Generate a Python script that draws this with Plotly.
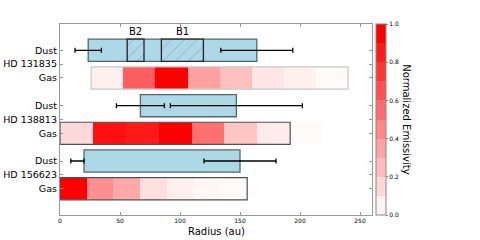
import plotly.graph_objects as go

# ---------------- data ----------------
targets = ["HD 131835", "HD 138813", "HD 156623"]
gas_pos = [4, 2, 0]
hd_pos = [4.5, 2.5, 0.5]
dust_pos = [5, 3, 1]

dust_inner = [23.5, 67, 20]
dust_outer = [164, 147, 150]
inner_err_minus = [11, 20, 11]
inner_err_plus = [11, 20, 0]
outer_err = [30, 55, 30]

band_names = ["B2", "B1"]
band_left = [56, 84.5]
band_right = [70, 119.5]

gas_edges = [
    [26, 52.8, 79.5, 106.3, 133, 159.8, 186.5, 213.3, 240],
    [0, 27.4, 54.8, 82.2, 109.6, 137, 164.4, 191.8, 219.2, 246.6],
    [0, 22.3, 44.6, 66.9, 89.1, 111.4, 133.7, 156],
]
gas_emis = [
    [0.06, 0.63, 1.0, 0.37, 0.25, 0.10, 0.06, 0.02],
    [0.15, 0.94, 0.90, 1.0, 0.56, 0.23, 0.08, 0.02, 0.0],
    [1.0, 0.44, 0.34, 0.12, 0.06, 0.035, 0.02],
]
gas_border_end = [240, 191.8, 156]
gas_border_color = ["#c8c8c8", "#505050", "#505050"]

cbar_ticks = [0.0, 0.2, 0.4, 0.6, 0.8, 1.0]

# ---------------- figure ----------------
FONT = "DejaVu Sans"
fig = go.Figure()

def red(v):
    g = round(255 * (1 - v))
    return f"rgb(255,{g},{g})"

cont_scale = [[0, red(0)], [1, red(1)]]
disc_scale = []
for i in range(10):
    v = 0.05 + i * 0.95 / 9
    disc_scale.append([i / 10, red(v)])
    disc_scale.append([(i + 1) / 10, red(v)])

# gas strips
for k in range(3):
    fig.add_trace(go.Heatmap(
        x=gas_edges[k], y=[gas_pos[k] - 0.4, gas_pos[k] + 0.4], z=[gas_emis[k]],
        colorscale=cont_scale, zmin=0, zmax=1, showscale=False, hoverinfo="skip"))
    fig.add_shape(type="rect", xref="x", yref="y",
                  x0=gas_edges[k][0], x1=gas_border_end[k],
                  y0=gas_pos[k] - 0.4, y1=gas_pos[k] + 0.4,
                  line=dict(color=gas_border_color[k], width=1.2))

# dust boxes
fig.add_trace(go.Bar(
    orientation="h", y=dust_pos,
    base=dust_inner, x=[o - i for i, o in zip(dust_inner, dust_outer)],
    width=0.8, marker=dict(color="#add8e6", line=dict(color="#56666c", width=1.3)),
    hoverinfo="skip", showlegend=False))

# hatched bands
fig.add_trace(go.Bar(
    orientation="h", y=[dust_pos[0]] * len(band_names),
    base=band_left, x=[r - l for l, r in zip(band_left, band_right)],
    width=0.8,
    marker=dict(color="#add8e6", line=dict(color="#222222", width=1.3),
                pattern=dict(shape="/", fgcolor="#5a6a72", bgcolor="#add8e6",
                             size=9, solidity=0.08)),
    hoverinfo="skip", showlegend=False))

for name, l, r in zip(band_names, band_left, band_right):
    fig.add_annotation(x=(l + r) / 2, y=dust_pos[0] + 0.68, xref="x", yref="y",
                       text=name, showarrow=False,
                       font=dict(family=FONT, size=10, color="black"))

# error bars
fig.add_trace(go.Scatter(
    x=dust_inner, y=dust_pos, mode="markers", marker=dict(size=1, color="black"),
    error_x=dict(type="data", symmetric=False, array=inner_err_plus,
                 arrayminus=inner_err_minus, color="black", thickness=1.3, width=2.5),
    hoverinfo="skip", showlegend=False))
fig.add_trace(go.Scatter(
    x=dust_outer, y=dust_pos, mode="markers", marker=dict(size=1, color="black"),
    error_x=dict(type="data", array=outer_err, color="black", thickness=1.3, width=2.5),
    hoverinfo="skip", showlegend=False))

# colorbar (discrete levels)
fig.add_trace(go.Scatter(
    x=[None], y=[None], mode="markers", hoverinfo="skip", showlegend=False,
    marker=dict(color=[0], cmin=0, cmax=1, colorscale=disc_scale, showscale=True,
                colorbar=dict(x=1.0128, xanchor="left", y=0.5, yanchor="middle",
                              len=1, lenmode="fraction", thickness=10,
                              outlinecolor="#888888", outlinewidth=1,
                              tickvals=cbar_ticks, tickformat=".1f",
                              ticks="outside", ticklen=2, tickcolor="#888888",
                              tickfont=dict(family=FONT, size=6, color="black"),
                              xpad=0, ypad=0))))

fig.add_annotation(x=1.11, y=0.5, xref="paper", yref="paper", text="Normalized Emissivity",
                   textangle=90, showarrow=False, xanchor="center", yanchor="middle",
                   font=dict(family=FONT, size=10, color="black"))
fig.add_annotation(x=0.5, y=-0.084, xref="paper", yref="paper", text="Radius (au)",
                   showarrow=False, xanchor="center", yanchor="middle",
                   font=dict(family=FONT, size=10, color="black"))

ytickvals = []
yticktext = []
for k in range(3):
    ytickvals += [dust_pos[k], hd_pos[k], gas_pos[k]]
    yticktext += ["Dust", targets[k], "Gas"]

fig.update_layout(
    width=480, height=240,
    margin=dict(l=60, r=108, t=24, b=25, autoexpand=False),
    plot_bgcolor="white", paper_bgcolor="white",
    barmode="overlay", showlegend=False,
    font=dict(family=FONT, color="black"),
    xaxis=dict(range=[0, 260], tickvals=[0, 50, 100, 150, 200, 250], automargin=False,
               showgrid=False, zeroline=False, showline=True, linecolor="#999999",
               linewidth=1.3, mirror="ticks", ticks="inside", ticklen=3,
               tickcolor="#999999", tickfont=dict(family=FONT, size=6, color="black")),
    yaxis=dict(range=[-0.95, 5.95], tickvals=ytickvals, ticktext=yticktext, automargin=False,
               showgrid=False, zeroline=False, showline=True, linecolor="#999999",
               linewidth=1.3, mirror="ticks", ticks="inside", ticklen=3, ticklabelstandoff=0,
               tickcolor="#999999", tickfont=dict(family=FONT, size=9.5, color="black")),
)

fig.write_html("out.html", config={"displayModeBar": False},
               post_script="document.body.style.margin='0px';")
